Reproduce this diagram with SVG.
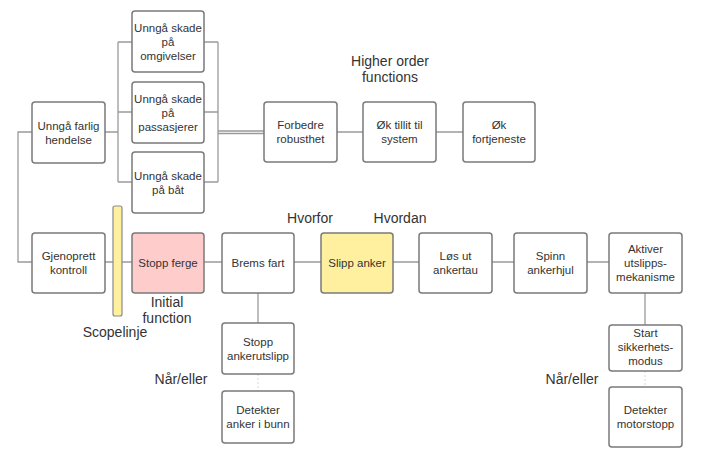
<svg xmlns="http://www.w3.org/2000/svg" width="712" height="456" viewBox="0 0 712 456">
<style>
.b{fill:#fff;stroke:#7a7a7a;stroke-width:1.5}
.t{font-family:"Liberation Sans",Arial,sans-serif;font-size:11.5px;fill:#333;text-anchor:middle}
.l{font-family:"Liberation Sans",Arial,sans-serif;font-size:14px;fill:#333;text-anchor:middle}
.c{fill:none;stroke:#9a9a9a;stroke-width:1.3}
</style>
<rect width="712" height="456" fill="#fff"/>
<g id="connectors">
<path class="c" d="M105,132H118M118,42V182M118,42H132M118,112H132M118,182H132"/>
<path class="c" d="M204,42H218M204,112H218M204,182H218M218,42V182"/>
<path class="c" d="M218,131H264M218,133.5H264"/>
<path class="c" d="M337,132H363M436,132H463"/>
<path class="c" d="M32,132H18V262H32"/>
<path class="c" d="M105,262H113M122,262H132M204,262H222M294,262H321M393,262H419M492,262H514M587,262H609"/>
<path class="c" d="M258,293V323M645,293V325"/>
<path d="M258,374V391M645,371V387" fill="none" stroke="#d8d8d8" stroke-width="1" stroke-dasharray="2,2"/>
</g>
<g id="n1"><rect class="b" x="32" y="102" width="73" height="61" rx="3"/><text class="t" x="68.5" y="129.5">Unngå farlig</text><text class="t" x="68.5" y="143.5">hendelse</text></g>
<g id="n2"><rect class="b" x="132" y="11" width="72" height="61" rx="3"/><text class="t" x="168" y="31.5">Unngå skade</text><text class="t" x="168" y="45.5">på</text><text class="t" x="168" y="59.5">omgivelser</text></g>
<g id="n3"><rect class="b" x="132" y="82" width="72" height="61" rx="3"/><text class="t" x="168" y="102.5">Unngå skade</text><text class="t" x="168" y="116.5">på</text><text class="t" x="168" y="130.5">passasjerer</text></g>
<g id="n4"><rect class="b" x="132" y="152" width="72" height="61" rx="3"/><text class="t" x="168" y="179.5">Unngå skade</text><text class="t" x="168" y="193.5">på båt</text></g>
<g id="n5"><rect class="b" x="264" y="102" width="73" height="60" rx="3"/><text class="t" x="300.5" y="129">Forbedre</text><text class="t" x="300.5" y="143">robusthet</text></g>
<g id="n6"><rect class="b" x="363" y="102" width="73" height="60" rx="3"/><text class="t" x="399.5" y="129">Øk tillit til</text><text class="t" x="399.5" y="143">system</text></g>
<g id="n7"><rect class="b" x="463" y="102" width="72" height="60" rx="3"/><text class="t" x="499" y="129">Øk</text><text class="t" x="499" y="143">fortjeneste</text></g>
<g id="n8"><rect class="b" x="32" y="233" width="73" height="60" rx="3"/><text class="t" x="68.5" y="260">Gjenoprett</text><text class="t" x="68.5" y="274">kontroll</text></g>
<g id="scope"><rect x="113" y="206" width="9" height="110" rx="2" fill="#fff0a0" stroke="#8a8a8a" stroke-width="1.2"/></g>
<g id="n9"><rect class="b" x="132" y="233" width="72" height="60" rx="3" style="fill:#ffcccc"/><text class="t" x="168" y="267">Stopp ferge</text></g>
<g id="n10"><rect class="b" x="222" y="233" width="72" height="60" rx="3"/><text class="t" x="258" y="267">Brems fart</text></g>
<g id="n11"><rect class="b" x="321" y="233" width="72" height="60" rx="3" style="fill:#fff0a0"/><text class="t" x="357" y="267">Slipp anker</text></g>
<g id="n12"><rect class="b" x="419" y="233" width="73" height="60" rx="3"/><text class="t" x="455.5" y="260">Løs ut</text><text class="t" x="455.5" y="274">ankertau</text></g>
<g id="n13"><rect class="b" x="514" y="233" width="73" height="60" rx="3"/><text class="t" x="550.5" y="260">Spinn</text><text class="t" x="550.5" y="274">ankerhjul</text></g>
<g id="n14"><rect class="b" x="609" y="233" width="73" height="60" rx="3"/><text class="t" x="645.5" y="253">Aktiver</text><text class="t" x="645.5" y="267">utslipps-</text><text class="t" x="645.5" y="281">mekanisme</text></g>
<g id="n15"><rect class="b" x="222" y="323" width="72" height="51" rx="3"/><text class="t" x="258" y="345.5">Stopp</text><text class="t" x="258" y="359.5">ankerutslipp</text></g>
<g id="n16"><rect class="b" x="222" y="391" width="72" height="52" rx="3"/><text class="t" x="258" y="414">Detekter</text><text class="t" x="258" y="428">anker i bunn</text></g>
<g id="n17"><rect class="b" x="609" y="325" width="73" height="46" rx="3"/><text class="t" x="645.5" y="337">Start</text><text class="t" x="645.5" y="351">sikkerhets-</text><text class="t" x="645.5" y="365">modus</text></g>
<g id="n18"><rect class="b" x="609" y="387" width="73" height="60" rx="3"/><text class="t" x="645.5" y="414">Detekter</text><text class="t" x="645.5" y="428">motorstopp</text></g>
<g id="labels">
<text class="l" x="390" y="66">Higher order</text>
<text class="l" x="390" y="82">functions</text>
<text class="l" x="310" y="223">Hvorfor</text>
<text class="l" x="400" y="223">Hvordan</text>
<text class="l" x="167" y="307">Initial</text>
<text class="l" x="167" y="323">function</text>
<text class="l" x="115" y="337">Scopelinje</text>
<text class="l" x="181" y="384">Når/eller</text>
<text class="l" x="572" y="384">Når/eller</text>
</g>
</svg>
